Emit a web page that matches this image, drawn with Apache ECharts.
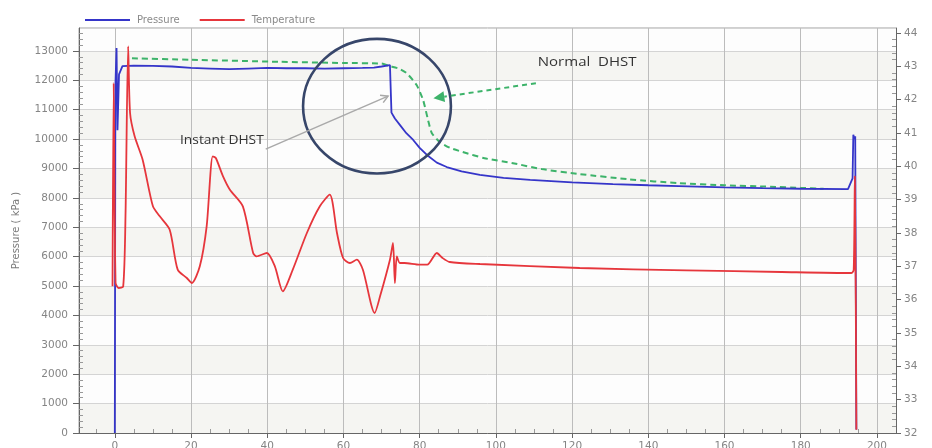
<!DOCTYPE html>
<html>
<head>
<meta charset="utf-8">
<script src="https://cdn.jsdelivr.net/npm/echarts@6/dist/echarts.min.js"></script>
<style>
  html, body { margin: 0; padding: 0; background: #ffffff; }
  #chart { width: 932px; height: 448px; }
</style>
</head>
<body>
<div id="chart"></div>
<script>
// Well test record: time (min) against pressure (kPa) and temperature
const pressureTime = [0, 0.15, 0.45, 0.7, 1.1, 2, 5, 10, 15, 20, 25, 30, 35, 40, 45, 50, 55, 60, 65, 68, 70, 72.2,
  72.6, 73.5, 75, 76.5, 78.3, 80, 81.9, 84.5, 87.1, 91, 95.8, 102, 109, 120, 130.7, 140, 148, 160, 170, 180,
  192.4, 193.6, 193.8, 194.1, 194.3, 194.6];
const pressureValues = [0, 11800, 13100, 10300, 12200, 12480, 12500, 12490, 12470, 12420, 12400, 12380, 12400,
  12420, 12410, 12410, 12400, 12410, 12420, 12430, 12470, 12520,
  10900, 10700, 10450, 10200, 9970, 9700, 9460, 9200, 9050, 8900, 8780, 8680, 8610, 8530, 8470, 8430, 8400,
  8360, 8330, 8310, 8300, 8660, 10150, 10000, 10100, 120];

// Conventional shut-in pressure build-up (dashed)
const normalTime = [4.5, 20, 43, 60, 70, 72, 74.5, 76.6, 79.2, 80.9, 82.2, 83.2, 85.3, 88, 91.3, 97, 104.5,
  112, 122, 135, 148, 160, 172, 180, 186];
const normalValues = [12750, 12700, 12630, 12590, 12570, 12490, 12400, 12240, 11840, 11330, 10650, 10200,
  9900, 9700, 9560, 9350, 9180, 8980, 8810, 8630, 8500, 8430, 8380, 8340, 8310];

const temperatureTime = [-0.6, -0.3, 0.2, 1, 2.2, 2.8, 3.5, 4, 5.2, 7.3, 10, 11.8, 14.4, 16.5, 18.9, 20.2,
  22.3, 24.1, 25.7, 26.5, 28.4, 30.2, 33.6, 36.3, 37.2, 39.9, 42, 44.1, 46.7, 50.4, 53.8, 56.4, 58.3, 59.9,
  61.7, 63.5, 65.1, 68.2, 69.6, 72.2, 73, 73.5, 74, 74.8, 76, 80, 82, 84.5, 86, 87.9, 95.8, 122, 150, 175,
  193.3, 193.9, 194.2, 194.6];
const temperatureValues = [36.4, 42.5, 36.5, 36.35, 36.4, 38.5, 43.6, 41.6, 40.9, 40.2, 38.8, 38.5, 38.1,
  36.9, 36.65, 36.5, 37.0, 38.2, 40.3, 40.25, 39.7, 39.3, 38.8, 37.4, 37.3, 37.4, 37.0, 36.25, 36.9, 38.0,
  38.8, 39.15, 38.0, 37.25, 37.1, 37.2, 36.9, 35.6, 36.1, 37.2, 37.7, 36.5, 37.3, 37.1, 37.1, 37.05, 37.05,
  37.4, 37.25, 37.13, 37.07, 36.95, 36.88, 36.83, 36.8, 36.9, 39.7, 32.1];

const legendNames = ['Pressure', 'Temperature'];
const pressureAxisName = 'Pressure ( kPa )';
const normalLabel = 'Normal  DHST';
const instantLabel = 'Instant DHST';

function pairs(xs, ys) { return xs.map((x, i) => [x, ys[i]]); }

const BLUE = '#3535c9';
const RED = '#e6363c';
const GREEN = '#3db36a';
const LABEL = { color: '#858585', fontSize: 10.5, fontFamily: 'DejaVu Sans', formatter: v => String(v) };

const chart = echarts.init(document.getElementById('chart'), null, { renderer: 'canvas' });

const X_MIN = -9.4, X_MAX = 205;
const P_MIN = 0, P_MAX = 13780;
const T_MIN = 32, T_MAX = 44.15;

// companion axes carry only the inward minor ticks
function minorAxis(base, split) {
  return Object.assign({
    type: 'value',
    axisLine: { show: false, onZero: false },
    axisTick: { show: false, inside: true },
    axisLabel: { show: false },
    splitLine: { show: false },
    minorTick: { show: true, splitNumber: split, length: 4, lineStyle: { color: '#999' } }
  }, base);
}

chart.setOption({
  animation: false,
  backgroundColor: '#ffffff',
  textStyle: { fontFamily: 'DejaVu Sans' },
  grid: {
    left: 79, right: 36, top: 28, bottom: 15,
    show: true, borderColor: '#a0a0a0', borderWidth: 1,
    containLabel: false, outerBoundsMode: 'none'
  },
  legend: {
    data: legendNames,
    left: 80, top: 10,
    icon: 'rect', itemWidth: 45, itemHeight: 2, itemGap: 20,
    textStyle: { color: '#8a8a8a', fontSize: 10, fontFamily: 'DejaVu Sans', padding: [0, 0, 0, 2] }
  },
  xAxis: [
    {
      type: 'value', min: X_MIN, max: X_MAX, splitNumber: 10, minInterval: 20, maxInterval: 20,
      axisLine: { show: true, onZero: false, lineStyle: { color: '#666', width: 1 } },
      axisTick: { show: true, length: 5, lineStyle: { color: '#666' } },
      axisLabel: Object.assign({ margin: 8, showMinLabel: false, showMaxLabel: false }, LABEL),
      splitLine: { show: true, lineStyle: { color: '#bcbcbc', width: 1 } }
    },
    minorAxis({ min: X_MIN, max: X_MAX, splitNumber: 10, minInterval: 20, maxInterval: 20, position: 'bottom' }, 4)
  ],
  yAxis: [
    {
      type: 'value', position: 'left', min: P_MIN, max: P_MAX, interval: 1000,
      name: pressureAxisName, nameLocation: 'middle', nameGap: 58, nameRotate: 90,
      nameTextStyle: { color: '#7a7a7a', fontSize: 10, fontFamily: 'DejaVu Sans' },
      axisLine: { show: true, onZero: false, lineStyle: { color: '#666' } },
      axisTick: { show: true, length: 6, lineStyle: { color: '#666' } },
      axisLabel: Object.assign({ margin: 11, showMaxLabel: false }, LABEL),
      splitLine: { show: true, lineStyle: { color: '#d4d4d4' } },
      splitArea: { show: true, areaStyle: { color: ['#f5f5f2', '#fdfdfd'] } }
    },
    {
      type: 'value', position: 'right', min: T_MIN, max: T_MAX, interval: 1,
      axisLine: { show: true, onZero: false, lineStyle: { color: '#666' } },
      axisTick: { show: true, length: 5, lineStyle: { color: '#666' } },
      axisLabel: Object.assign({ margin: 8, showMaxLabel: false }, LABEL),
      splitLine: { show: false }
    },
    minorAxis({ min: P_MIN, max: P_MAX, interval: 1000, position: 'left' }, 5),
    minorAxis({ min: T_MIN, max: T_MAX, interval: 1, position: 'right' }, 5)
  ],
  series: [
    {
      name: 'Pressure', type: 'line', xAxisIndex: 0, yAxisIndex: 0,
      data: pairs(pressureTime, pressureValues),
      symbol: 'none', showSymbol: false, z: 4,
      lineStyle: { color: BLUE, width: 1.8 }, itemStyle: { color: BLUE }
    },
    {
      name: 'Normal DHST', type: 'line', xAxisIndex: 0, yAxisIndex: 0,
      data: pairs(normalTime, normalValues),
      symbol: 'none', showSymbol: false, z: 3, smooth: 0.2,
      lineStyle: { color: GREEN, width: 2, type: [6, 4] }, itemStyle: { color: GREEN }
    },
    {
      name: 'Temperature', type: 'line', xAxisIndex: 0, yAxisIndex: 1,
      data: pairs(temperatureTime, temperatureValues),
      symbol: 'none', showSymbol: false, z: 5, smooth: 0.25,
      lineStyle: { color: RED, width: 1.8 }, itemStyle: { color: RED }
    }
  ]
});

// Annotations placed in (time, pressure) coordinates
function toPx(pt) { return chart.convertToPixel({ xAxisIndex: 0, yAxisIndex: 0 }, pt); }

function arrow(from, to, color, width, dash, headLen, headHalf, filled) {
  const a = toPx(from), b = toPx(to);
  const ang = Math.atan2(b[1] - a[1], b[0] - a[0]);
  const c = Math.cos(ang), s = Math.sin(ang);
  const bx = b[0] - headLen * c, by = b[1] - headLen * s;
  const p1 = [bx - headHalf * s, by + headHalf * c];
  const p2 = [bx + headHalf * s, by - headHalf * c];
  const els = [{
    type: 'line', z: 20,
    shape: { x1: a[0], y1: a[1], x2: filled ? bx : b[0], y2: filled ? by : b[1] },
    style: { stroke: color, lineWidth: width, lineDash: dash }
  }];
  if (filled) {
    els.push({ type: 'polygon', z: 20, shape: { points: [b, p1, p2] }, style: { fill: color } });
  } else {
    els.push({ type: 'polyline', z: 20, shape: { points: [p1, b, p2] }, style: { stroke: color, lineWidth: width, fill: 'none' } });
  }
  return els;
}

const ringCenter = [68.8, 11120];
const ringHalf = [19.4, 2290];
const c0 = toPx(ringCenter);
const cx1 = toPx([ringCenter[0] + ringHalf[0], ringCenter[1]]);
const cy1 = toPx([ringCenter[0], ringCenter[1] + ringHalf[1]]);

const normalAt = toPx([111, 12590]);
const instantAt = toPx([17.1, 9960]);

const graphics = [
  {
    type: 'ellipse', z: 20,
    shape: { cx: c0[0], cy: c0[1], rx: Math.abs(cx1[0] - c0[0]), ry: Math.abs(c0[1] - cy1[1]) },
    style: { fill: 'none', stroke: '#37466a', lineWidth: 2.6 }
  },
  {
    type: 'text', z: 20, x: normalAt[0], y: normalAt[1], scaleX: 1.25,
    style: { text: normalLabel, fill: '#333', font: '12px "Open Sans"', verticalAlign: 'middle' }
  },
  {
    type: 'text', z: 20, x: instantAt[0], y: instantAt[1], scaleX: 1.15,
    style: { text: instantLabel, fill: '#333', font: '12px "Open Sans"', verticalAlign: 'middle' }
  }
]
  .concat(arrow([39.6, 9660], [71.7, 11460], '#a9a9a9', 1.5, null, 7, 4, false))
  .concat(arrow([110.5, 11900], [83.6, 11390], GREEN, 2, [5, 4], 11, 5.5, true));

chart.setOption({ graphic: graphics });
</script>
</body>
</html>
